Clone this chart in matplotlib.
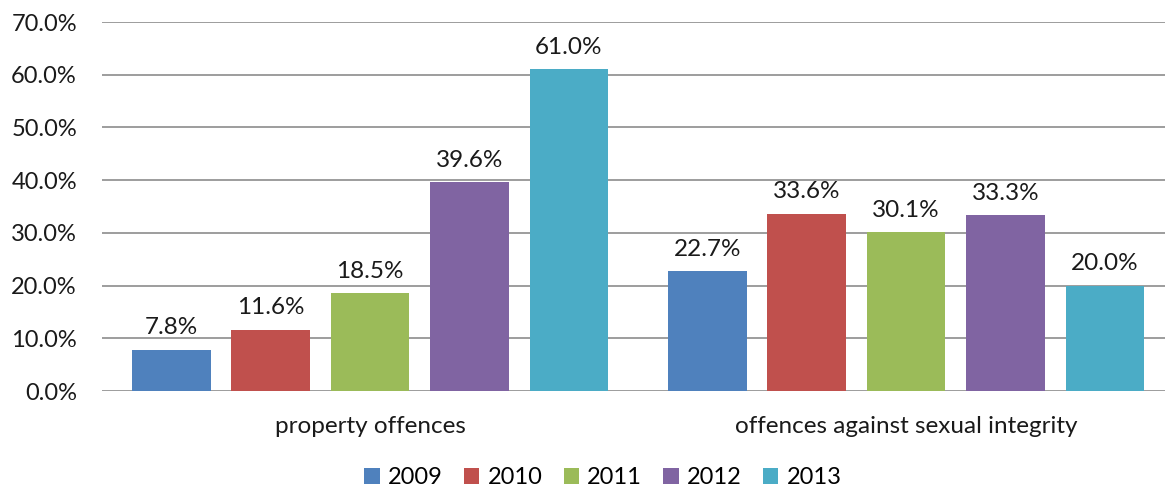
import numpy as np
import matplotlib.pyplot as plt
from matplotlib.ticker import FuncFormatter

plt.rcParams['font.family'] = ['Lato', 'DejaVu Sans']

categories = ["property offences", "offences against sexual integrity"]
years = ["2009", "2010", "2011", "2012", "2013"]
values = {
    "2009": [7.8, 22.7],
    "2010": [11.6, 33.6],
    "2011": [18.5, 30.1],
    "2012": [39.6, 33.3],
    "2013": [61.0, 20.0],
}
colors = ["#4F81BD", "#C0504D", "#9BBB59", "#8064A2", "#4BACC6"]

fig = plt.figure(figsize=(11.65, 4.93), dpi=100)
ax = fig.add_axes([102 / 1165, 102 / 493, 1063 / 1165, 369 / 493])

x = np.arange(len(categories))
step = 0.1855
width = 0.147
for i, yr in enumerate(years):
    pos = x + (i - 2) * step
    vals = np.array(values[yr]) / 100
    ax.bar(pos, vals, width, color=colors[i], label=yr, zorder=3)
    for p, v in zip(pos, vals):
        ax.text(p, v + 0.022, f"{v * 100:.1f}%", ha="center", va="bottom",
                fontsize=17.5, color="#1a1a1a")

ax.set_xlim(-0.5, 1.483)
ax.set_ylim(0, 0.7)
ax.set_yticks(np.arange(0, 0.71, 0.1))
ax.yaxis.set_major_formatter(FuncFormatter(lambda v, _: f"{v * 100:.1f}%"))
ax.set_xticks(x)
ax.set_xticklabels(categories)
ax.tick_params(axis="both", length=0, labelsize=17, colors="#1a1a1a")
ax.tick_params(axis="x", pad=18, labelsize=17.5)
ax.tick_params(axis="y", pad=18)
ax.grid(axis="y", color="#8c8c8c", linewidth=1.2, zorder=0)
for s in ax.spines.values():
    s.set_visible(False)

leg = fig.legend(loc="center", bbox_to_anchor=(603 / 1165, 1 - 478 / 493), ncol=5,
                 frameon=False, fontsize=17, handlelength=0.65, handleheight=0.65,
                 handletextpad=0.35, columnspacing=0.9)

fig.savefig("out.png", dpi=100)
